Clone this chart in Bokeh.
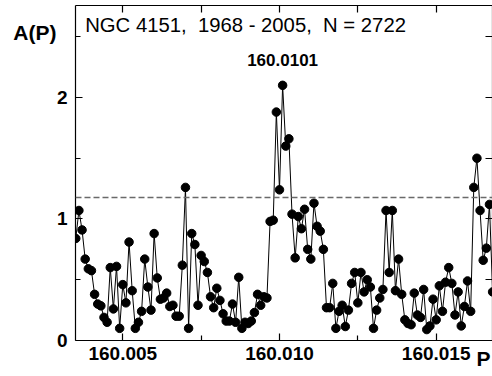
from bokeh.plotting import figure
from bokeh.models import FixedTicker, PrintfTickFormatter, Span, Label, LinearAxis, Range1d
from bokeh.embed import file_html
from bokeh.resources import INLINE

# Frequency grid
freq = [
    160.0035, 160.0036, 160.0037, 160.0038, 160.0039, 160.0040, 160.0041, 160.0042, 160.0043, 160.0044,
    160.0045, 160.0046, 160.0047, 160.0048, 160.0049, 160.0050, 160.0051, 160.0052, 160.0053, 160.0054,
    160.0055, 160.0056, 160.0057, 160.0058, 160.0059, 160.0060, 160.0061, 160.0062, 160.0063, 160.0064,
    160.0065, 160.0066, 160.0067, 160.0068, 160.0069, 160.0070, 160.0071, 160.0072, 160.0073, 160.0074,
    160.0075, 160.0076, 160.0077, 160.0078, 160.0079, 160.0080, 160.0081, 160.0082, 160.0083, 160.0084,
    160.0085, 160.0086, 160.0087, 160.0088, 160.0089, 160.0090, 160.0091, 160.0092, 160.0093, 160.0094,
    160.0095, 160.0096, 160.0097, 160.0098, 160.0099, 160.0100, 160.0101, 160.0102, 160.0103, 160.0104,
    160.0105, 160.0106, 160.0107, 160.0108, 160.0109, 160.0110, 160.0111, 160.0112, 160.0113, 160.0114,
    160.0115, 160.0116, 160.0117, 160.0118, 160.0119, 160.0120, 160.0121, 160.0122, 160.0123, 160.0124,
    160.0125, 160.0126, 160.0127, 160.0128, 160.0129, 160.0130, 160.0131, 160.0132, 160.0133, 160.0134,
    160.0135, 160.0136, 160.0137, 160.0138, 160.0139, 160.0140, 160.0141, 160.0142, 160.0143, 160.0144,
    160.0145, 160.0146, 160.0147, 160.0148, 160.0149, 160.0150, 160.0151, 160.0152, 160.0153, 160.0154,
    160.0155, 160.0156, 160.0157, 160.0158, 160.0159, 160.0160, 160.0161, 160.0162, 160.0163, 160.0164,
    160.0165, 160.0166, 160.0167, 160.0168,
]

# Amplitude A(P)
amp = [
    0.84, 1.07, 0.91, 0.67, 0.59, 0.575, 0.38, 0.30, 0.285, 0.19,
    0.15, 0.60, 0.26, 0.61, 0.10, 0.46, 0.31, 0.81, 0.41, 0.10,
    0.15, 0.24, 0.67, 0.44, 0.25, 0.88, 0.515, 0.34, 0.35, 0.39,
    0.28, 0.29, 0.20, 0.20, 0.62, 1.26, 0.10, 0.88, 0.79, 0.29,
    0.70, 0.65, 0.56, 0.36, 0.27, 0.43, 0.33, 0.22, 0.16, 0.16,
    0.30, 0.15, 0.52, 0.10, 0.15, 0.14, 0.16, 0.23, 0.38, 0.29,
    0.36, 0.35, 0.98, 0.99, 1.88, 1.24, 2.10, 1.60, 1.66, 1.04,
    0.68, 1.02, 0.92, 1.08, 0.75, 0.67, 1.13, 0.94, 0.90, 0.75,
    0.27, 0.27, 0.47, 0.10, 0.24, 0.29, 0.115, 0.25, 0.47, 0.56,
    0.31, 0.56, 0.40, 0.50, 0.44, 0.10, 0.25, 0.35, 0.42, 1.07,
    0.56, 1.07, 0.41, 0.67, 0.38, 0.17, 0.14, 0.13, 0.39, 0.21,
    0.19, 0.42, 0.09, 0.12, 0.34, 0.17, 0.45, 0.24, 0.48, 0.60,
    0.47, 0.21, 0.40, 0.12, 0.28, 0.49, 0.24, 1.26, 1.50, 1.07,
    0.66, 0.76, 1.12, 0.40,
]

x_ticks = [160.005, 160.010, 160.015]
x_minor = [160.0075, 160.0125]
y_ticks = [0, 1, 2]
y_minor = [0.5, 1.5, 2.5]
threshold = 1.177
peak_freq = 160.0101
peak_text = "160.0101"
title_text = "NGC 4151,\u00a0\u00a01968 - 2005,\u00a0\u00a0N = 2722"
y_label = "A(P)"
x_label = "P"

FONT = "Liberation Sans"

p = figure(width=492, height=376,
           x_range=Range1d(160.003491, 160.016797), y_range=Range1d(0, 2.757),
           output_backend="svg", toolbar_location=None,
           min_border_left=75, min_border_right=0, min_border_top=5, min_border_bottom=36)
p.grid.visible = False
p.outline_line_color = None
p.background_fill_color = "white"
p.border_fill_color = "white"

def style_axis(ax, standoff):
    ax.axis_line_color = "black"
    ax.axis_line_width = 1.2
    ax.major_tick_in = 7
    ax.major_tick_out = 0
    ax.minor_tick_in = 5
    ax.minor_tick_out = 0
    ax.major_tick_line_color = "black"
    ax.minor_tick_line_color = "black"
    ax.major_tick_line_width = 1.2
    ax.minor_tick_line_width = 1.2
    ax.major_label_text_font = FONT
    ax.major_label_text_font_style = "bold"
    ax.major_label_text_color = "black"
    ax.major_label_text_font_size = "19px"
    ax.major_label_standoff = standoff

def label_only(ax):
    ax.axis_line_color = None
    ax.major_tick_line_color = None
    ax.minor_tick_line_color = None
    ax.major_label_text_font_size = "21px"

xax = p.xaxis[0]
yax = p.yaxis[0]
xax.ticker = FixedTicker(ticks=x_ticks, minor_ticks=x_minor)
xax.formatter = PrintfTickFormatter(format="%.3f")
yax.ticker = FixedTicker(ticks=y_ticks, minor_ticks=y_minor)
yax.formatter = PrintfTickFormatter(format="%d")
style_axis(xax, 6)
style_axis(yax, 8)

# "A(P)" title of the amplitude axis, at the top-left outside the frame
ylab_axis = LinearAxis(ticker=FixedTicker(ticks=[2.535]),
                       formatter=PrintfTickFormatter(format=y_label))
style_axis(ylab_axis, -3)
label_only(ylab_axis)
p.add_layout(ylab_axis, "left")

# "P" title of the frequency axis, at the bottom-right
xlab_axis = LinearAxis(ticker=FixedTicker(ticks=[160.01651]),
                       formatter=PrintfTickFormatter(format=x_label))
style_axis(xlab_axis, -16)
label_only(xlab_axis)
p.add_layout(xlab_axis, "below")

# mirrored axes: tick marks only
top = LinearAxis(ticker=FixedTicker(ticks=[], minor_ticks=x_ticks + x_minor))
style_axis(top, 0)
top.minor_tick_in = 7
p.add_layout(top, "above")
right = LinearAxis(ticker=FixedTicker(ticks=[], minor_ticks=y_ticks + y_minor))
style_axis(right, 0)
right.minor_tick_in = 7
p.add_layout(right, "right")

p.add_layout(Span(location=threshold, dimension="width", line_color="#6a6a6a",
                  line_dash="6 3", line_width=1.5))

p.line(freq, amp, line_color="black", line_width=1)
p.scatter(freq, amp, size=8.5, fill_color="black", line_color="black")

p.add_layout(Label(x=160.00380, y=2.596, text=title_text, text_font=FONT,
                   text_font_size="20.3px", text_color="black", text_baseline="alphabetic"))
p.add_layout(Label(x=peak_freq, y=2.311, text=peak_text, text_font=FONT,
                   text_font_size="17px", text_font_style="bold", text_color="black",
                   text_align="center", text_baseline="alphabetic"))

open("out.html", "w").write(file_html(p, INLINE))
